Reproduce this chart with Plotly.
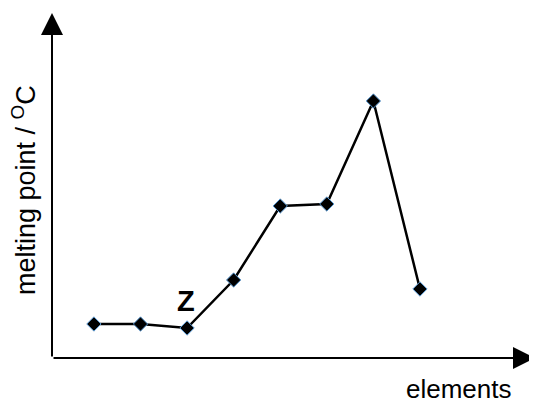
import plotly.graph_objects as go

# data (arbitrary melting-point units)
element_index = [1, 2, 3, 4, 5, 6, 7, 8]
melting_point = [34, 34, 30, 78, 152, 154, 257, 69]
label_index = 2
label_text = "Z"
x_title = "elements"
y_title = "melting point / <sup>O</sup>C"

FONT = "Liberation Sans, Arial, sans-serif"

fig = go.Figure()
fig.add_trace(go.Scatter(
    x=element_index, y=melting_point, mode="lines+markers",
    line=dict(color="black", width=2.5),
    marker=dict(symbol="diamond", size=11, color="black",
                line=dict(color="#5b9bd5", width=1)),
    showlegend=False, hoverinfo="skip"))

annotations = [
    # x axis arrow
    dict(x=1, y=0, xref="paper", yref="paper", ax=-483, ay=0,
         axref="pixel", ayref="pixel", showarrow=True, text="",
         arrowhead=2, arrowsize=2.2, arrowwidth=2, arrowcolor="black", standoff=0),
    # y axis arrow
    dict(x=0, y=1, xref="paper", yref="paper", ax=0, ay=345,
         axref="pixel", ayref="pixel", showarrow=True, text="",
         arrowhead=2, arrowsize=2.2, arrowwidth=2, arrowcolor="black", standoff=0),
    dict(x=0.843, y=-0.09, xref="paper", yref="paper", text=x_title,
         showarrow=False, font=dict(family=FONT, size=26, color="black"),
         xanchor="center", yanchor="middle"),
    dict(x=-0.058, y=0.487, xref="paper", yref="paper", text=y_title,
         textangle=-90, showarrow=False,
         font=dict(family=FONT, size=27, color="black"),
         xanchor="center", yanchor="middle"),
    dict(x=element_index[label_index], y=melting_point[label_index],
         xref="x", yref="y", text="<b>%s</b>" % label_text, showarrow=False,
         yshift=27, xshift=-1,
         font=dict(family=FONT, size=29, color="black"),
         xanchor="center", yanchor="middle"),
]

# the page places the figure 8px in from the window's top-left corner
fig.update_layout(
    width=529, height=394,
    margin=dict(l=44, r=2, t=5, b=44),
    paper_bgcolor="white", plot_bgcolor="white",
    xaxis=dict(range=[0.1, 10.47], visible=False),
    yaxis=dict(range=[0, 345], visible=False),
    annotations=annotations,
)

fig.write_html("out.html")
